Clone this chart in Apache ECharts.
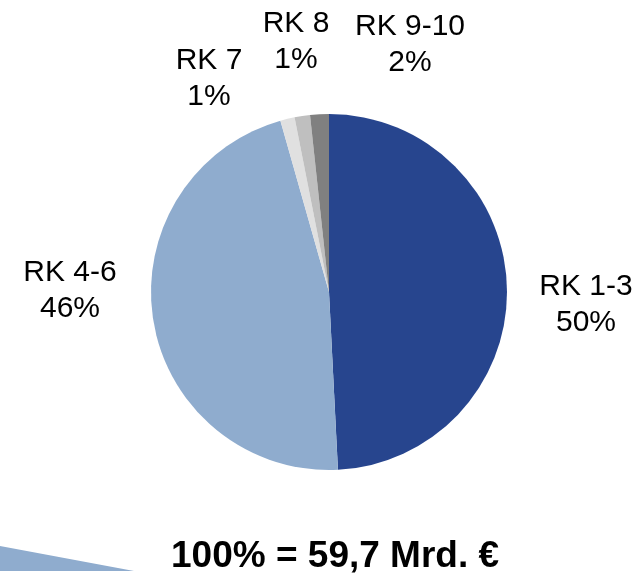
<!DOCTYPE html>
<html>
<head>
<meta charset="utf-8">
<script src="https://cdn.jsdelivr.net/npm/echarts@6/dist/echarts.min.js"></script>
<style>
  html, body { margin: 0; padding: 0; background: #fff; }
  #chart { width: 642px; height: 574px; }
</style>
</head>
<body>
<div id="chart"></div>
<script>
// Anteile der Risikoklassen (geschätzt aus den Sektorwinkeln)
const categories = ['RK 1-3', 'RK 4-6', 'RK 7', 'RK 8', 'RK 9-10']
const shares = [49.2, 46.4, 1.3, 1.4, 1.7]
const shareLabels = ['50%', '46%', '1%', '1%', '2%']
const colors = ['#27458e', '#8facce', '#e0e0e0', '#bfbfbf', '#808080']
const totalText = '100% = 59,7 Mrd. €'

// Label-Positionen (Blockmitte) je Sektor
const labelPos = [
  [586, 305],
  [70, 291],
  [209, 79],
  [296, 42],
  [410, 45]
]

const chart = echarts.init(document.getElementById('chart'))

const option = {
  animation: false,
  textStyle: { fontFamily: 'Liberation Sans, Arial, sans-serif' },
  graphic: [
    {
      type: 'polygon',
      shape: { points: [[0, 546], [134, 571], [0, 571]] },
      style: { fill: '#8facce' }
    },
    {
      type: 'text',
      left: 171,
      top: 538,
      style: {
        text: totalText,
        font: 'bold 37px "Liberation Sans", Arial, sans-serif',
        fill: '#000'
      }
    }
  ],
  series: [{
    type: 'pie',
    center: [329, 292],
    radius: 178,
    startAngle: 90,
    clockwise: true,
    data: categories.map((name, i) => ({
      name,
      value: shares[i],
      itemStyle: { color: colors[i] }
    })),
    label: {
      show: true,
      position: 'inside',
      color: '#000',
      fontSize: 30,
      lineHeight: 36,
      overflow: 'none',
      fontFamily: 'Liberation Sans, Arial, sans-serif',
      formatter: (p) => p.name + '\n' + shareLabels[p.dataIndex]
    },
    labelLine: { show: false },
    labelLayout: (params) => {
      const pos = labelPos[params.dataIndex]
      return { x: pos[0], y: pos[1], align: 'center', verticalAlign: 'middle' }
    },
    emphasis: { disabled: true }
  }]
}

chart.setOption(option)
</script>
</body>
</html>
